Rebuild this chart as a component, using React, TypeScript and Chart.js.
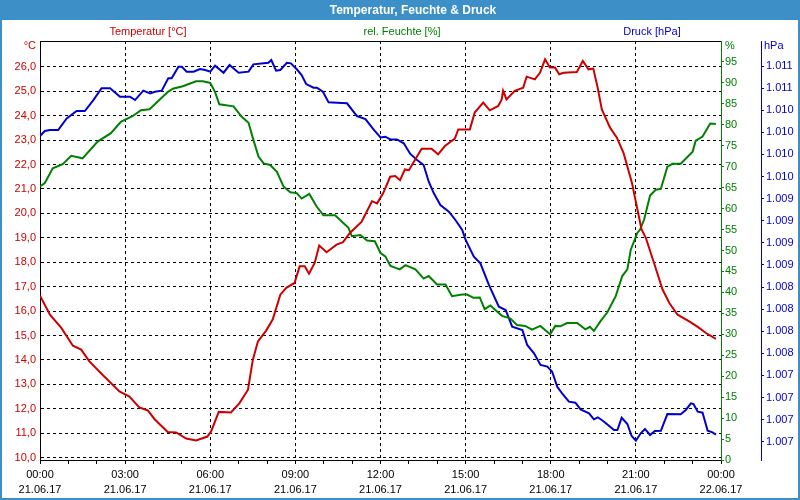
import React, { useEffect, useRef } from "react";
import { Chart, registerables } from "chart.js";

Chart.register(...registerables);

const TITLE = "Temperatur, Feuchte & Druck";
const SERIES_NAMES = ["Temperatur [°C]", "rel. Feuchte [%]", "Druck [hPa]"];
const UNIT_LABELS = ["°C", "%", "hPa"];

// hours since 21.06.17 00:00
const tempHours = [
  0.0, 0.35, 0.75, 1.16, 1.45, 1.74, 2.21, 2.8, 3.15, 3.5, 3.8, 4.04, 4.5, 4.8, 5.15, 5.5, 5.9, 6.03,
  6.3, 6.73, 7.03, 7.33, 7.5, 7.68, 7.97, 8.2, 8.47, 8.68, 8.97, 9.15, 9.33, 9.48, 9.68, 9.84, 10.1,
  10.45, 10.68, 10.92, 11.33, 11.7, 11.88, 12.1, 12.34, 12.52, 12.69, 12.86, 13.0, 13.45, 13.8, 14.03,
  14.27, 14.62, 14.74, 15.15, 15.32, 15.62, 15.85, 16.15, 16.27, 16.32, 16.44, 16.73, 17.03, 17.15,
  17.44, 17.62, 17.8, 17.97, 18.15, 18.3, 18.45, 18.92, 19.13, 19.33, 19.5, 19.64, 19.8, 20.09, 20.33,
  20.56, 20.68, 20.86, 21.03, 21.2, 21.35, 21.64, 21.94, 22.18, 22.47, 22.88, 23.18, 23.47, 23.82,
];
const tempValues = [
  16.63, 15.85, 15.31, 14.58, 14.42, 13.94, 13.38, 12.71, 12.5, 12.05, 11.93, 11.57, 11.05, 11.03, 10.78,
  10.7, 10.86, 11.07, 11.87, 11.85, 12.23, 12.78, 14.0, 14.76, 15.2, 15.65, 16.67, 16.95, 17.15, 17.83,
  17.83, 17.53, 17.97, 18.68, 18.41, 18.72, 18.82, 19.2, 19.65, 20.5, 20.41, 20.84, 21.5, 21.53, 21.36,
  21.8, 21.77, 22.65, 22.65, 22.42, 22.76, 23.06, 23.44, 23.44, 24.13, 24.54, 24.22, 24.4, 24.67, 25.02,
  24.67, 25.02, 25.15, 25.6, 25.49, 25.76, 26.31, 25.97, 25.97, 25.7, 25.76, 25.79, 26.24, 25.9, 25.93,
  25.22, 24.26, 23.51, 23.1, 22.49, 22.0, 21.26, 20.3, 19.34, 19.0, 17.97, 16.88, 16.33, 15.85, 15.58,
  15.35, 15.1, 14.86,
];

const humHours = [
  0.0, 0.17, 0.45, 0.8, 1.1, 1.5, 2.03, 2.5, 2.85, 3.27, 3.56, 3.86, 4.5, 4.68, 5.03, 5.5, 5.74, 6.0,
  6.17, 6.32, 6.82, 7.11, 7.35, 7.52, 7.7, 7.88, 8.11, 8.35, 8.58, 8.82, 9.05, 9.22, 9.49, 9.75, 9.99,
  10.4, 10.87, 10.99, 11.29, 11.53, 11.8, 12.0, 12.17, 12.35, 12.68, 12.88, 13.23, 13.52, 13.7, 13.99,
  14.29, 14.52, 14.88, 15.05, 15.28, 15.5, 15.67, 15.87, 16.28, 16.57, 16.81, 17.1, 17.34, 17.63, 17.98,
  18.16, 18.34, 18.57, 18.93, 19.22, 19.38, 19.52, 19.76, 19.99, 20.29, 20.52, 20.7, 20.82, 21.05,
  21.15, 21.29, 21.35, 21.5, 21.7, 21.88, 22.11, 22.29, 22.58, 23.0, 23.11, 23.35, 23.62, 23.82,
];
const humValues = [
  65.3, 66.1, 69.6, 70.6, 72.6, 72.0, 76.0, 78.0, 80.7, 82.1, 83.5, 83.7, 87.8, 88.6, 89.2, 90.4, 90.4,
  90.0, 87.8, 84.9, 84.4, 81.9, 80.5, 76.4, 72.4, 70.8, 70.4, 68.8, 65.3, 63.9, 63.7, 62.4, 63.5, 60.5,
  58.4, 58.4, 55.4, 53.4, 53.7, 52.4, 52.2, 49.4, 48.6, 46.3, 45.5, 46.5, 45.5, 43.3, 43.9, 41.9, 41.9,
  39.1, 39.5, 39.5, 38.7, 38.8, 36.0, 36.9, 34.4, 33.8, 32.2, 32.0, 31.1, 32.0, 30.0, 32.0, 31.9, 32.7,
  32.7, 31.2, 31.8, 30.8, 33.2, 35.2, 39.1, 43.9, 45.5, 50.2, 54.2, 55.0, 57.4, 59.0, 63.1, 64.5, 64.7,
  70.0, 70.7, 70.7, 73.6, 76.2, 77.2, 80.3, 80.2,
];

const presHours = [
  0.0, 0.17, 0.35, 0.64, 0.94, 1.29, 1.58, 1.88, 2.17, 2.47, 2.82, 3.17, 3.35, 3.64, 3.88, 4.05, 4.29,
  4.52, 4.64, 4.88, 5.0, 5.17, 5.41, 5.64, 5.82, 6.0, 6.17, 6.47, 6.68, 7.0, 7.35, 7.52, 8.05, 8.15,
  8.32, 8.47, 8.7, 8.84, 9.05, 9.22, 9.38, 9.64, 9.76, 9.97, 10.17, 10.47, 10.82, 11.17, 11.47, 11.76,
  12.0, 12.17, 12.35, 12.58, 12.82, 13.05, 13.29, 13.52, 13.7, 13.88, 14.11, 14.41, 14.64, 14.88, 15.0,
  15.29, 15.52, 15.82, 16.17, 16.41, 16.64, 17.0, 17.17, 17.41, 17.64, 17.88, 18.05, 18.23, 18.4, 18.64,
  18.87, 19.05, 19.35, 19.52, 19.66, 19.88, 20.23, 20.35, 20.5, 20.7, 20.85, 21.0, 21.17, 21.32, 21.5,
  21.67, 21.88, 22.11, 22.58, 22.76, 22.94, 23.03, 23.18, 23.35, 23.53, 23.7, 23.82,
];
const presValues = [
  1010.458, 1010.515, 1010.526, 1010.526, 1010.658, 1010.741, 1010.741, 1010.865, 1010.998, 1010.998,
  1010.903, 1010.903, 1010.865, 1010.971, 1010.941, 1010.959, 1010.971, 1011.111, 1011.111, 1011.242,
  1011.242, 1011.186, 1011.186, 1011.216, 1011.205, 1011.186, 1011.254, 1011.174, 1011.261, 1011.174,
  1011.186, 1011.269, 1011.287, 1011.318, 1011.197, 1011.205, 1011.287, 1011.28, 1011.213, 1011.148,
  1011.046, 1011.005, 1011.005, 1010.959, 1010.839, 1010.835, 1010.828, 1010.684, 1010.65, 1010.53,
  1010.441, 1010.45, 1010.42, 1010.42, 1010.376, 1010.255, 1010.187, 1010.13, 1009.941, 1009.81,
  1009.678, 1009.602, 1009.508, 1009.395, 1009.282, 1009.093, 1009.018, 1008.773, 1008.527, 1008.49,
  1008.301, 1008.264, 1008.094, 1008.0, 1007.868, 1007.85, 1007.792, 1007.622, 1007.547, 1007.453,
  1007.441, 1007.366, 1007.321, 1007.253, 1007.276, 1007.226, 1007.132, 1007.132, 1007.271, 1007.2,
  1007.064, 1007.011, 1007.095, 1007.144, 1007.076, 1007.121, 1007.124, 1007.313, 1007.31, 1007.359,
  1007.434, 1007.426, 1007.339, 1007.328, 1007.124, 1007.106, 1007.08,
];

const xTickHours = [0, 3, 6, 9, 12, 15, 18, 21, 24];
const xTickTimes = ["00:00", "03:00", "06:00", "09:00", "12:00", "15:00", "18:00", "21:00", "00:00"];
const xTickDates = ["21.06.17", "21.06.17", "21.06.17", "21.06.17", "21.06.17", "21.06.17", "21.06.17", "21.06.17", "22.06.17"];

const tempTicks = [10, 11, 12, 13, 14, 15, 16, 17, 18, 19, 20, 21, 22, 23, 24, 25, 26];
const humTicks = [0, 5, 10, 15, 20, 25, 30, 35, 40, 45, 50, 55, 60, 65, 70, 75, 80, 85, 90, 95];
const presTicks = [
  1011.25, 1011.0, 1010.75, 1010.5, 1010.25, 1010.0, 1009.75, 1009.5, 1009.25, 1009.0, 1008.75, 1008.5,
  1008.25, 1008.0, 1007.75, 1007.5, 1007.25, 1007.0,
];
const presTickLabels = [
  "1.011", "1.011", "1.010", "1.010", "1.010", "1.010", "1.009", "1.009", "1.009", "1.009", "1.008",
  "1.008", "1.008", "1.008", "1.007", "1.007", "1.007", "1.007",
];

const RED = "#cc0000";
const GREEN = "#008000";
const BLUE = "#0000cc";
const FRAME = "#3c8fc7";
const FONT = "'Liberation Sans', Arial, sans-serif";

const decorPlugin = {
  id: "decor",
  beforeDraw(chart: any) {
    const ctx = chart.ctx;
    ctx.save();
    ctx.fillStyle = FRAME;
    ctx.fillRect(0, 0, 800, 500);
    ctx.fillStyle = "#ffffff";
    ctx.fillRect(2, 20, 796, 478);
    ctx.textBaseline = "middle";
    ctx.textAlign = "center";
    ctx.fillStyle = "#ffffff";
    ctx.font = `bold 12px ${FONT}`;
    ctx.fillText(TITLE, 413, 10.5);
    ctx.font = `11px ${FONT}`;
    ctx.fillStyle = RED;
    ctx.fillText(SERIES_NAMES[0], 148, 31.5);
    ctx.fillStyle = GREEN;
    ctx.fillText(SERIES_NAMES[1], 402, 31.5);
    ctx.fillStyle = BLUE;
    ctx.fillText(SERIES_NAMES[2], 652, 31.5);
    ctx.textAlign = "right";
    ctx.fillStyle = RED;
    ctx.fillText(UNIT_LABELS[0], 36, 46);
    ctx.textAlign = "left";
    ctx.fillStyle = GREEN;
    ctx.fillText(UNIT_LABELS[1], 725, 46);
    ctx.fillStyle = BLUE;
    ctx.fillText(UNIT_LABELS[2], 764, 46);
    ctx.restore();
  },
  afterDraw(chart: any) {
    const { ctx, chartArea } = chart;
    ctx.save();
    ctx.strokeStyle = "#000";
    ctx.lineWidth = 1;
    ctx.beginPath();
    ctx.moveTo(chartArea.left, chartArea.top + 0.5);
    ctx.lineTo(chartArea.right, chartArea.top + 0.5);
    ctx.stroke();
    ctx.restore();
  },
};

const toXY = (hs: number[], vs: number[]) => hs.map((h, i) => ({ x: h, y: vs[i] }));

export default function App() {
  const ref = useRef<HTMLCanvasElement | null>(null);

  useEffect(() => {
    if (!ref.current) return;
    const tickFont = { family: FONT, size: 11 };
    const chart = new Chart(ref.current, {
      type: "line",
      data: {
        datasets: [
          {
            label: SERIES_NAMES[0],
            data: toXY(tempHours, tempValues),
            borderColor: RED,
            backgroundColor: RED,
            borderWidth: 2,
            pointRadius: 0,
            yAxisID: "yT",
          },
          {
            label: SERIES_NAMES[1],
            data: toXY(humHours, humValues),
            borderColor: GREEN,
            backgroundColor: GREEN,
            borderWidth: 2,
            pointRadius: 0,
            yAxisID: "yH",
          },
          {
            label: SERIES_NAMES[2],
            data: toXY(presHours, presValues),
            borderColor: BLUE,
            backgroundColor: BLUE,
            borderWidth: 2,
            pointRadius: 0,
            yAxisID: "yP",
          },
        ],
      },
      options: {
        responsive: false,
        devicePixelRatio: 1,
        animation: false,
        layout: { padding: { top: 41, left: 0, right: 0, bottom: 0 } },
        plugins: { legend: { display: false }, tooltip: { enabled: false }, title: { display: false } },
        scales: {
          x: {
            type: "linear",
            position: "bottom",
            min: 0,
            max: 24,
            afterFit: (s: any) => {
              s.height = 40;
            },
            ticks: {
              stepSize: 1,
              autoSkip: false,
              maxRotation: 0,
              padding: 3,
              color: "#000",
              font: { family: FONT, size: 11, lineHeight: "15px" },
              callback: (v: any) => {
                const i = xTickHours.indexOf(Number(v));
                return i >= 0 ? [xTickTimes[i], xTickDates[i]] : "";
              },
            },
            grid: {
              drawOnChartArea: true,
              drawTicks: true,
              tickLength: 4,
              tickColor: "#000",
              color: (c: any) => (c.tick && xTickHours.indexOf(c.tick.value) >= 0 ? "#000" : "rgba(0,0,0,0)"),
              lineWidth: 1,
            },
            border: { display: true, color: "#000", width: 1, dash: [3, 3] },
          },
          yT: {
            type: "linear",
            position: "left",
            min: 9.9,
            max: 27.06,
            afterFit: (s: any) => {
              s.width = 40;
            },
            afterBuildTicks: (s: any) => {
              s.ticks = tempTicks.map((v) => ({ value: v }));
            },
            ticks: {
              color: RED,
              font: tickFont,
              padding: 4,
              callback: (v: any) => Number(v).toFixed(1).replace(".", ","),
            },
            grid: { drawOnChartArea: true, drawTicks: false, color: "#000", lineWidth: 1 },
            border: { display: true, color: "#000", width: 1, dash: [3, 3] },
          },
          yH: {
            type: "linear",
            position: "right",
            weight: 0,
            min: 0,
            max: 100,
            afterFit: (s: any) => {
              s.width = 40;
            },
            afterBuildTicks: (s: any) => {
              s.ticks = humTicks.map((v) => ({ value: v }));
            },
            ticks: { color: GREEN, font: tickFont, padding: 1, callback: (v: any) => String(v) },
            grid: { drawOnChartArea: false, drawTicks: true, tickLength: 3, color: GREEN },
            border: { display: true, color: GREEN, width: 1 },
          },
          yP: {
            type: "linear",
            position: "right",
            weight: 1,
            min: 1006.793,
            max: 1011.533,
            afterFit: (s: any) => {
              s.width = 39;
            },
            afterBuildTicks: (s: any) => {
              s.ticks = presTicks.map((v) => ({ value: v }));
            },
            ticks: {
              color: BLUE,
              font: tickFont,
              padding: 2,
              callback: (_v: any, i: number) => presTickLabels[i],
            },
            grid: { drawOnChartArea: false, drawTicks: true, tickLength: 3, color: BLUE },
            border: { display: true, color: BLUE, width: 1 },
          },
        },
      } as any,
      plugins: [decorPlugin],
    });
    return () => chart.destroy();
  }, []);

  return (
    <div style={{ position: "fixed", left: 0, top: 0, width: 800, height: 500 }}>
      <canvas ref={ref} width={800} height={500} style={{ display: "block" }} />
    </div>
  );
}
